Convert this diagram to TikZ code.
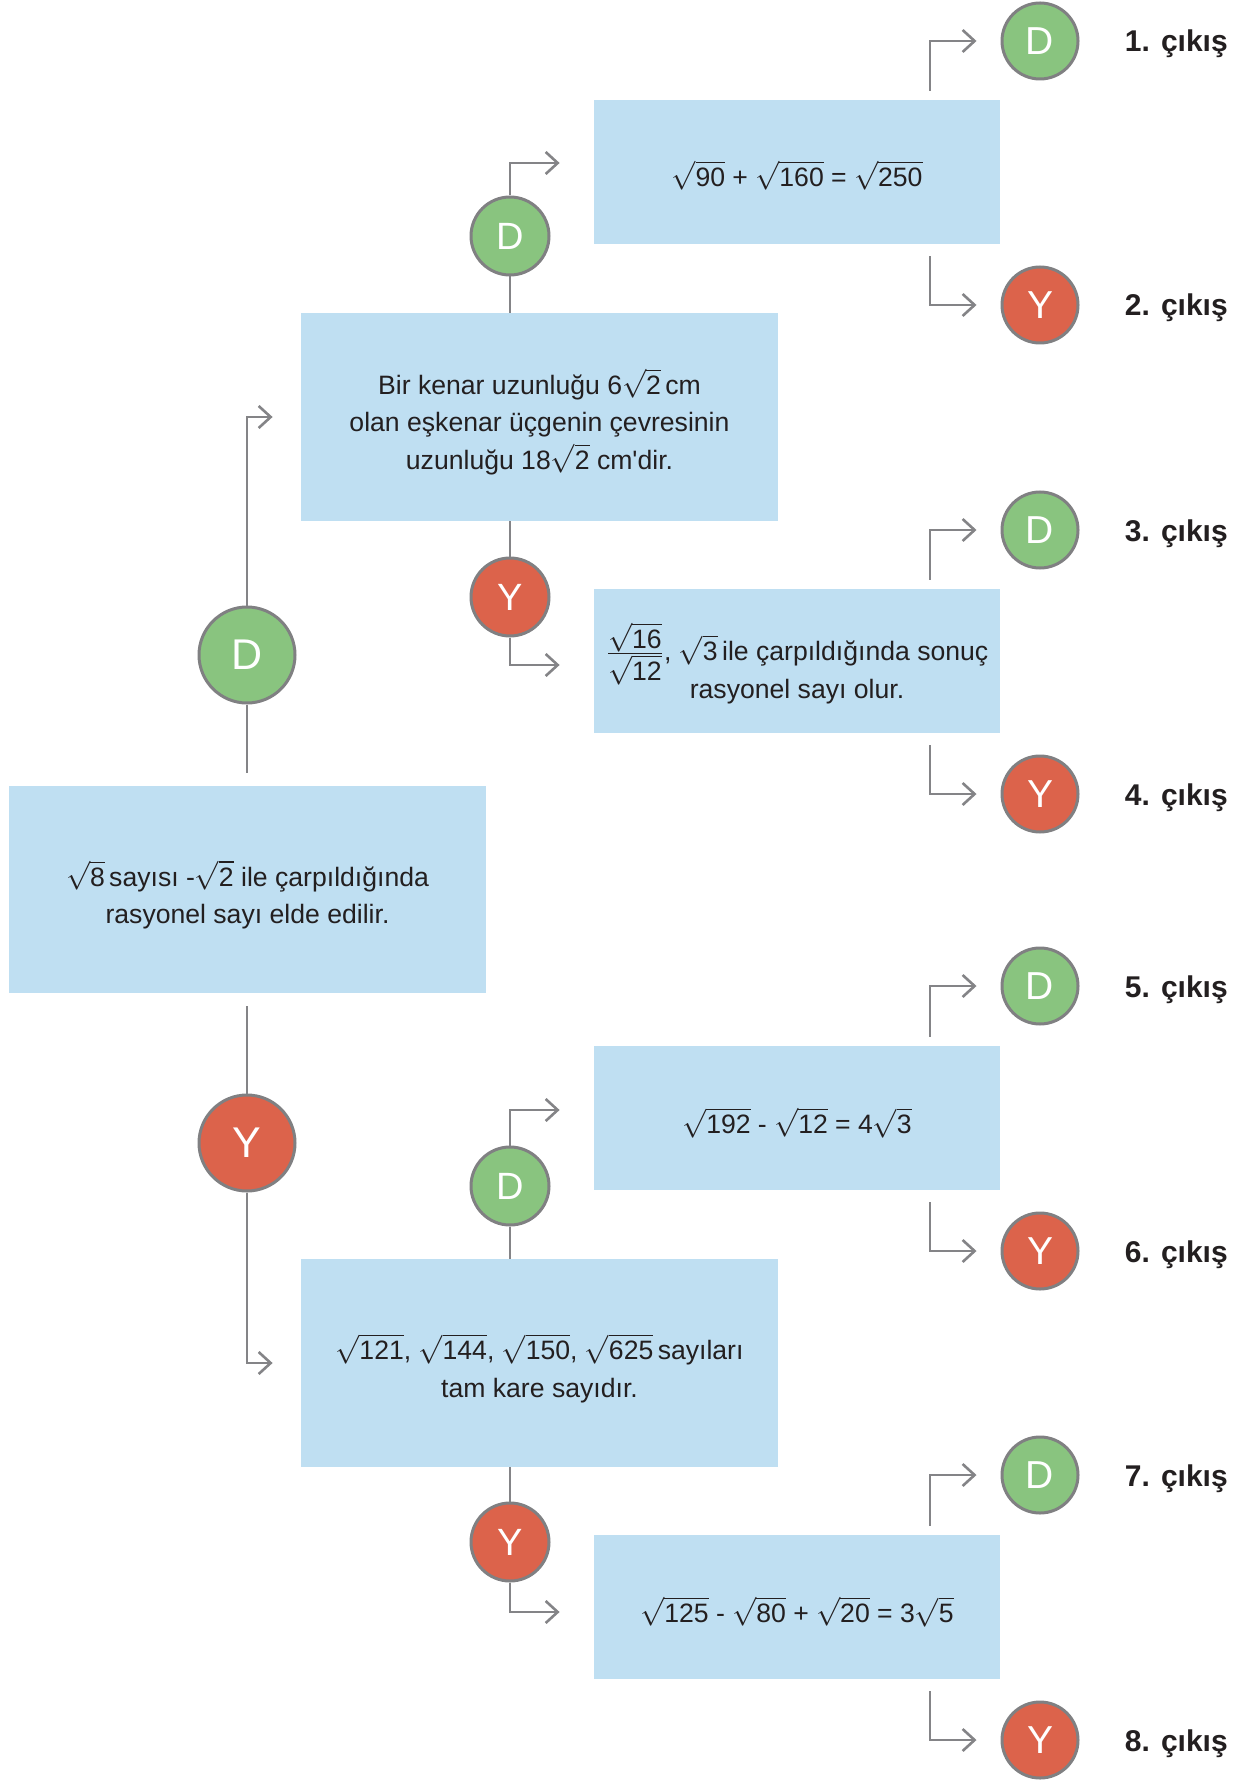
\documentclass[tikz,border=0pt]{standalone}
\usepackage{fontspec}
\setmainfont{Liberation Sans}
\usetikzlibrary{arrows.meta,positioning}
\definecolor{boxblue}{RGB}{191,223,242}
\definecolor{dgreen}{RGB}{137,196,127}
\definecolor{yred}{RGB}{220,99,75}
\definecolor{ringgray}{RGB}{128,128,130}
\definecolor{linegray}{RGB}{132,132,135}
\definecolor{textdark}{RGB}{35,31,32}
\newcommand{\rt}[1]{$\sqrt{\mbox{#1}}$}
\begin{document}
\begin{tikzpicture}[x=0.5pt,y=-0.5pt,
  box/.style={fill=boxblue, inner sep=0pt},
  lbox/.style={box, minimum width=238.5pt, minimum height=104pt},
  rbox/.style={box, minimum width=203pt, minimum height=72pt},
  txt/.style={inner sep=0pt, align=center, text=textdark, font=\fontsize{13.3}{18.75}\selectfont},
  circ/.style={circle, draw=ringgray, line width=1.5pt, text=white, inner sep=0pt},
  dc/.style={circ, fill=dgreen},
  yc/.style={circ, fill=yred},
  bigc/.style={minimum size=48pt, font=\fontsize{21.5}{24}\selectfont},
  medc/.style={minimum size=39pt, font=\fontsize{19}{22}\selectfont},
  smlc/.style={minimum size=38pt, font=\fontsize{19.5}{22}\selectfont},
  ln/.style={draw=linegray, line width=1.3pt},
  arr/.style={ln, -{Straight Barb[length=6pt,width=11pt]}},
  lbl/.style={font=\bfseries\fontsize{15}{18}\selectfont, text=textdark, inner sep=0pt, anchor=base west}
]
\useasboundingbox (0,0) rectangle (1253,1780);

% boxes
\node[lbox, minimum height=103.5pt] (root) at (247.5,889.5) {};
\node[lbox] (b2) at (539.5,417) {};
\node[lbox] (b5) at (539.5,1363) {};
\node[rbox] (bA) at (797,172) {};
\node[rbox] (bB) at (797,661) {};
\node[rbox] (bC) at (797,1118) {};
\node[rbox] (bD) at (797,1607) {};

% box texts
\node[txt] (troot) at ([yshift=-2.6pt]root.center) {\rt{8}\,sayısı -\rt{2} ile çarpıldığında\\ rasyonel sayı elde edilir.};
\node[txt] (tb2) at ([yshift=-2.3pt]b2.center) {Bir kenar uzunluğu 6\rt{2}\,cm\\ olan eşkenar üçgenin çevresinin\\ uzunluğu 18\rt{2}\ cm\textquotesingle dir.};
\node[txt] (tb5) at ([yshift=-2.6pt]b5.center) {\rt{121}, \rt{144}, \rt{150}, \rt{625}\,sayıları\\ tam kare sayıdır.};
\node[txt] (tbA) at ([yshift=-1.8pt]bA.center) {\rt{90} + \rt{160} = \rt{250}};
\node[txt] (tbB) at ([yshift=-4.2pt]bB.center) {\smash{$\frac{\sqrt{\mbox{16}}}{\sqrt{\mbox{12}}}$}, \rt{3}\,ile çarpıldığında sonuç\\ rasyonel sayı olur.};
\node[txt] (tbC) at ([yshift=-2.3pt]bC.center) {\rt{192} - \rt{12} = 4\rt{3}};
\node[txt] (tbD) at ([yshift=-2.3pt]bD.center) {\rt{125} - \rt{80} + \rt{20} = 3\rt{5}};

% left circles
\node[dc, bigc] (bigD) at (247,655) {D};
\node[yc, bigc] (bigY) at (247,1143) {Y};
% middle circles
\node[dc, medc] (mD1) at (510,236) {D};
\node[yc, medc] (mY1) at (510,597) {Y};
\node[dc, medc] (mD2) at (510,1186) {D};
\node[yc, medc] (mY2) at (510,1542) {Y};
% right circles
\node[dc, smlc] (r1) at (1040,41) {D};
\node[yc, smlc] (r2) at (1040,305) {Y};
\node[dc, smlc] (r3) at (1040,530) {D};
\node[yc, smlc] (r4) at (1040,794) {Y};
\node[dc, smlc] (r5) at (1040,986) {D};
\node[yc, smlc] (r6) at (1040,1251) {Y};
\node[dc, smlc] (r7) at (1040,1475) {D};
\node[yc, smlc] (r8) at (1040,1740) {Y};

% labels
\node[lbl] (l1) at ([xshift=22.5pt,yshift=-5.5pt]r1.east) {1. çıkış};
\node[lbl] (l2) at ([xshift=22.5pt,yshift=-5.5pt]r2.east) {2. çıkış};
\node[lbl] (l3) at ([xshift=22.5pt,yshift=-5.5pt]r3.east) {3. çıkış};
\node[lbl] (l4) at ([xshift=22.5pt,yshift=-5.5pt]r4.east) {4. çıkış};
\node[lbl] (l5) at ([xshift=22.5pt,yshift=-5.5pt]r5.east) {5. çıkış};
\node[lbl] (l6) at ([xshift=22.5pt,yshift=-5.5pt]r6.east) {6. çıkış};
\node[lbl] (l7) at ([xshift=22.5pt,yshift=-5.5pt]r7.east) {7. çıkış};
\node[lbl] (l8) at ([xshift=22.5pt,yshift=-5.5pt]r8.east) {8. çıkış};

% left connectors
\draw[arr, shorten >=14pt] (bigD.north) |- (b2.west);
\draw[ln, shorten >=6.5pt] (bigD.south) -- (bigD |- root.north);
\draw[ln, shorten <=6.5pt] (bigY |- root.south) -- (bigY.north);
\draw[arr, shorten >=14pt] (bigY.south) |- (b5.west);

% middle connectors
\draw[ln] (mD1.south) -- (mD1 |- b2.north);
\draw[arr, shorten >=17pt] (mD1.north) |- ([yshift=4.5pt]bA.west);
\draw[ln] (mY1.north) -- (mY1 |- b2.south);
\draw[arr, shorten >=17pt] (mY1.south) |- ([yshift=-2pt]bB.west);
\draw[ln] (mD2.south) -- (mD2 |- b5.north);
\draw[arr, shorten >=17pt] (mD2.north) |- ([yshift=4pt]bC.west);
\draw[ln] (mY2.north) -- (mY2 |- b5.south);
\draw[arr, shorten >=17pt] (mY2.south) |- ([yshift=-2.5pt]bD.west);

% right connectors
\draw[arr, shorten >=12pt] ([xshift=66.5pt,yshift=4.5pt]bA.north) |- (r1.west);
\draw[arr, shorten >=12pt] ([xshift=66.5pt,yshift=-6pt]bA.south) |- (r2.west);
\draw[arr, shorten >=12pt] ([xshift=66.5pt,yshift=4.5pt]bB.north) |- (r3.west);
\draw[arr, shorten >=12pt] ([xshift=66.5pt,yshift=-6pt]bB.south) |- (r4.west);
\draw[arr, shorten >=12pt] ([xshift=66.5pt,yshift=4.5pt]bC.north) |- (r5.west);
\draw[arr, shorten >=12pt] ([xshift=66.5pt,yshift=-6pt]bC.south) |- (r6.west);
\draw[arr, shorten >=12pt] ([xshift=66.5pt,yshift=4.5pt]bD.north) |- (r7.west);
\draw[arr, shorten >=12pt] ([xshift=66.5pt,yshift=-6pt]bD.south) |- (r8.west);
\end{tikzpicture}
\end{document}
